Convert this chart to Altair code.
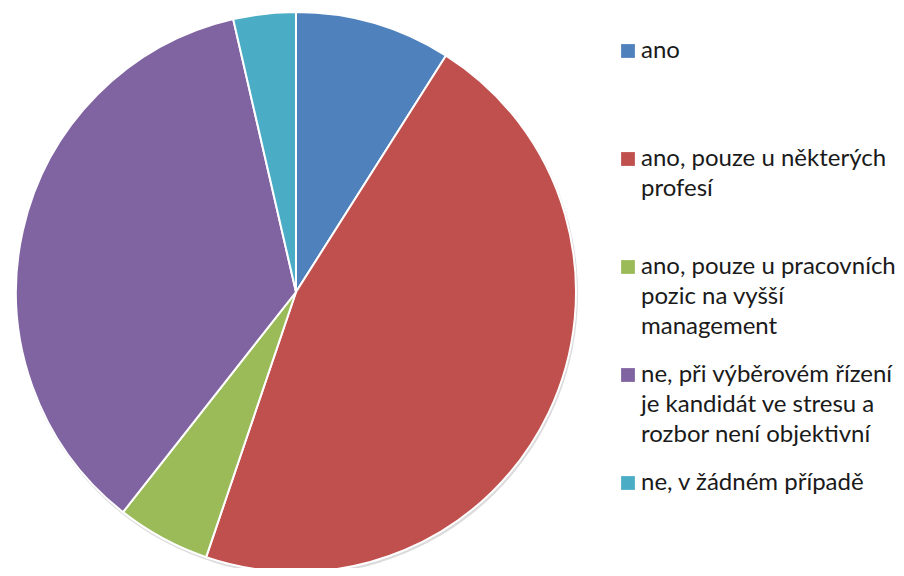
import altair as alt
import pandas as pd

categories = [
    "ano",
    "ano, pouze u některých profesí",
    "ano, pouze u pracovních pozic na vyšší management",
    "ne, při výběrovém řízení je kandidát ve stresu a rozbor není objektivní",
    "ne, v žádném případě",
]
values = [9.0, 46.2, 5.4, 35.8, 3.6]
colors = ["#4F81BD", "#C0504D", "#9BBB59", "#8064A2", "#4BACC6"]
legend_lines = [
    ["ano"],
    ["ano, pouze u některých", "profesí"],
    ["ano, pouze u pracovních", "pozic na vyšší", "management"],
    ["ne, při výběrovém řízení", "je kandidát ve stresu a", "rozbor není objektivní"],
    ["ne, v žádném případě"],
]

pie_df = pd.DataFrame({"category": categories, "value": values, "idx": list(range(len(categories)))})
leg_df = pd.DataFrame({"category": categories, "idx": list(range(len(categories)))})
rows = []
for i, lines in enumerate(legend_lines):
    for j, t in enumerate(lines):
        rows.append({"category": categories[i], "idx": i, "line": j, "text": t})
txt_df = pd.DataFrame(rows)

FONT = "Lato"
color_scale = alt.Scale(domain=categories, range=colors)
yscale = alt.Scale(domain=[-0.398, 4.787], range=[0, 560], zero=False, nice=False)

shadow = alt.Chart(pd.DataFrame({"v": [1]})).mark_arc(
    theta=0, theta2=6.2832, color="#999999", opacity=0.35
).encode(x=alt.value(289), y=alt.value(286), radius=alt.value(281))

pie = alt.Chart(pie_df).mark_arc(stroke="white", strokeWidth=2).encode(
    theta=alt.Theta("value:Q", stack=True),
    order=alt.Order("idx:Q"),
    color=alt.Color("category:N", scale=color_scale, legend=None),
    x=alt.value(288),
    y=alt.value(284),
    radius=alt.value(280),
)

squares = alt.Chart(leg_df).mark_square(size=190, opacity=1).encode(
    x=alt.value(620),
    y=alt.Y("idx:Q", scale=yscale, axis=None),
    color=alt.Color("category:N", scale=color_scale, legend=None),
)

texts = alt.Chart(txt_df).transform_calculate(
    pos="datum.idx + datum.line * 0.2778"
).mark_text(
    align="left", baseline="middle", font=FONT, fontSize=24, color="#1a1a1a"
).encode(
    x=alt.value(633),
    y=alt.Y("pos:Q", scale=yscale, axis=None),
    text="text:N",
)

chart = alt.layer(shadow, pie, squares, texts).resolve_scale(theta="independent").properties(
    width=888, height=560, padding=0, autosize=alt.AutoSizeParams(type="none")
).configure_view(stroke=None)

chart.save("out.html", embed_options={"renderer": "svg", "actions": False})
